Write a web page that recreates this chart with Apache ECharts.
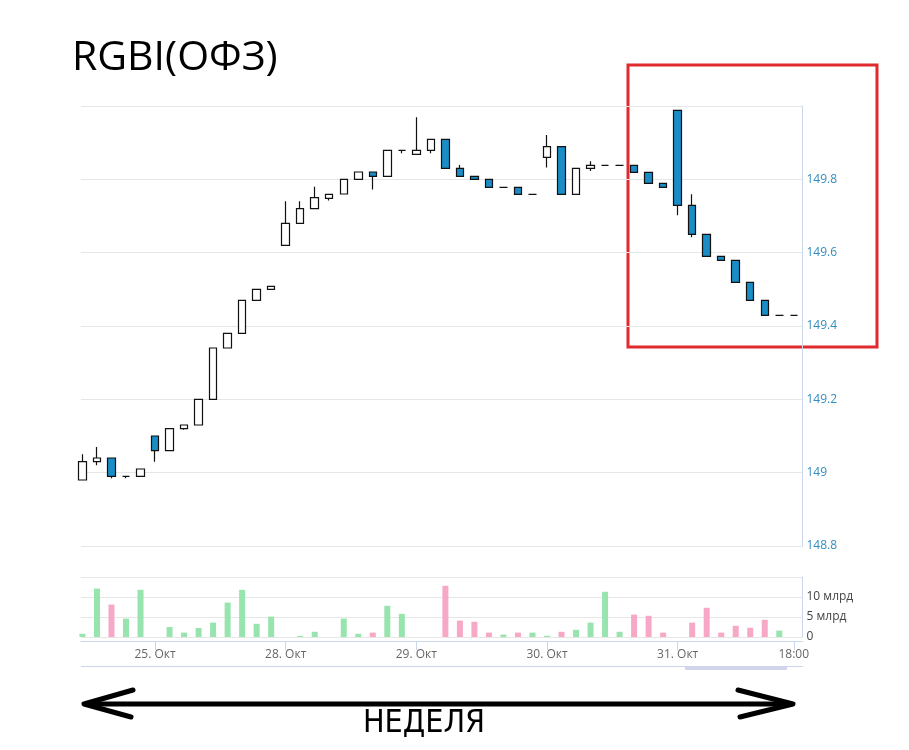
<!DOCTYPE html>
<html><head><meta charset="utf-8">
<script src="https://cdn.jsdelivr.net/npm/echarts@6/dist/echarts.min.js"></script>
<style>html,body{margin:0;padding:0;background:#fff}#c{width:909px;height:750px}</style>
</head><body><div id="c"></div>
<script>
// hourly candles, 24 Oct (14:00-18:00) .. 31 Oct (10:00-18:00)
const openP  = [148.98,149.03,149.04,148.99,148.99,149.10,149.06,149.12,149.13,149.20,
                149.34,149.38,149.47,149.50,149.62,149.68,149.72,149.748,149.76,149.80,
                149.82,149.808,149.879,149.868,149.879,149.909,149.830,149.808,149.800,149.778,
                149.778,149.759,149.860,149.889,149.759,149.830,149.838,149.838,149.838,149.819,
                149.789,149.988,149.729,149.650,149.590,149.579,149.519,149.470,149.429,149.429];
const closeP = [149.03,149.04,148.99,148.99,149.01,149.06,149.12,149.13,149.20,149.34,
                149.38,149.47,149.50,149.508,149.68,149.72,149.75,149.759,149.80,149.82,
                149.808,149.879,149.879,149.879,149.909,149.830,149.808,149.800,149.778,149.778,
                149.759,149.759,149.889,149.759,149.830,149.838,149.838,149.838,149.819,149.789,
                149.778,149.729,149.650,149.590,149.579,149.519,149.470,149.429,149.429,149.429];
const lowP   = [148.98,149.02,148.985,148.985,148.99,149.03,149.06,149.117,149.13,149.20,
                149.34,149.38,149.47,149.50,149.62,149.68,149.72,149.742,149.76,149.80,
                149.772,149.808,149.871,149.868,149.871,149.830,149.808,149.800,149.778,149.778,
                149.759,149.759,149.832,149.759,149.759,149.823,149.838,149.838,149.819,149.789,
                149.778,149.702,149.642,149.590,149.579,149.519,149.470,149.429,149.429,149.429];
const highP  = [149.05,149.07,149.04,148.99,149.01,149.10,149.12,149.13,149.20,149.34,
                149.38,149.47,149.50,149.508,149.74,149.74,149.78,149.759,149.80,149.82,
                149.82,149.879,149.879,149.969,149.909,149.909,149.839,149.808,149.800,149.778,
                149.778,149.759,149.921,149.889,149.830,149.849,149.838,149.838,149.838,149.819,
                149.789,149.988,149.759,149.650,149.590,149.579,149.519,149.470,149.429,149.429];
// volume, billions RUB
const volume = [0.8,12.1,8.1,4.6,11.8,0,2.5,1.1,2.25,3.6,
                8.6,11.8,3.3,5.1,0,0.25,1.3,0,4.6,0.8,
                1.1,7.8,5.8,0,0,12.8,4.1,3.8,1.1,0.6,
                1.1,1.1,0.3,1.3,1.8,3.6,11.3,1.3,5.6,5.3,
                1.1,0,3.6,7.3,1.1,2.8,2.3,4.3,1.6,0];
const volumeDir = ['u','u','d','u','u','u','u','u','u','u',
                   'u','u','u','u','u','u','u','u','u','u',
                   'd','u','u','u','u','d','d','d','d','u',
                   'd','u','u','d','u','u','u','u','d','d',
                   'd','d','d','d','d','d','d','d','u','u'];
const tickIndex  = [5,14,23,32,41,49];
const tickLabels = ['25. Окт','28. Окт','29. Окт','30. Окт','31. Окт','18:00'];
const title = 'RGBI(ОФЗ)';
const caption = 'НЕДЕЛЯ';

const candleData = openP.map((o,i)=>[i,o,closeP[i],lowP[i],highP[i]]);
const volData = volume.map((v,i)=>({value:[i,v],itemStyle:{color: volumeDir[i]==='d' ? '#f7a8c6' : '#98e4ae'}}));

const chart = echarts.init(document.getElementById('c'));
chart.setOption({
  animation:false,
  backgroundColor:'#fff',
  title:{text:title,left:67,top:33,textStyle:{fontFamily:'Open Sans',fontSize:41,fontWeight:'normal',color:'#000'}},
  grid:[{left:81,width:721.5,top:106,height:440},{left:81,width:721.5,top:577,height:60}],
  xAxis:[
    {type:'value',gridIndex:0,min:-0.1,max:49.6,show:false,splitLine:{show:false},axisLine:{onZero:false}},
    {type:'value',gridIndex:1,min:-0.1,max:49.6,offset:4,
     axisLine:{onZero:false,lineStyle:{color:'#ccd6eb'}},
     axisTick:{customValues:tickIndex,length:9,lineStyle:{color:'#ccd6eb'}},
     axisLabel:{customValues:tickIndex,formatter:v=>tickLabels[tickIndex.indexOf(Math.round(v))],color:'#666',fontSize:12,fontFamily:'Open Sans',margin:8},
     splitLine:{show:false}}
  ],
  yAxis:[
    {type:'value',gridIndex:0,position:'right',min:148.8,max:150.0,interval:0.2,
     axisLine:{show:true,onZero:false,lineStyle:{color:'#ccd6eb'}},axisTick:{show:false},
     axisLabel:{color:'#338cbf',fontSize:12,fontFamily:'Open Sans',margin:4,formatter:v=>v>149.99?'':String(+v.toFixed(1))},
     splitLine:{lineStyle:{color:'#e6e6e6'}}},
    {type:'value',gridIndex:1,position:'right',min:0,max:15,interval:5,
     axisLine:{show:true,onZero:false,lineStyle:{color:'#ccd6eb'}},axisTick:{show:false},
     axisLabel:{color:'#444',fontSize:12,fontFamily:'Open Sans',margin:4,formatter:v=>v===0?'0':(v>=15?'':v+' млрд')},
     splitLine:{lineStyle:{color:'#e6e6e6'}}}
  ],
  series:[
    {type:'candlestick',xAxisIndex:0,yAxisIndex:0,encode:{x:0,y:[1,2,3,4]},barWidth:8,clip:true,
     itemStyle:{color:'#ffffff',color0:'#1a8cc6',borderColor:'#111',borderColor0:'#111',borderColorDoji:'#111',borderWidth:1.2},
     data:candleData},
    {type:'bar',xAxisIndex:1,yAxisIndex:1,barWidth:6,data:volData}
  ],
  graphic:[
    {type:'line',shape:{x1:81,y1:666.5,x2:803,y2:666.5},style:{stroke:'#ccd6eb',lineWidth:1}},
    {type:'rect',shape:{x:685,y:667,width:102,height:3},style:{fill:'#d4d4ef'}},
    {type:'rect',shape:{x:628,y:65,width:249,height:282},style:{fill:'none',stroke:'#e02a2e',lineWidth:3}},
    {type:'line',shape:{x1:86,y1:704,x2:790,y2:704},style:{stroke:'#000',lineWidth:5}},
    {type:'polyline',shape:{points:[[133,690],[84,704],[131,717]]},style:{stroke:'#000',lineWidth:5,fill:null,lineJoin:'round',lineCap:'round'}},
    {type:'polyline',shape:{points:[[738,690],[793,704],[740,717]]},style:{stroke:'#000',lineWidth:5,fill:null,lineJoin:'round',lineCap:'round'}},
    {type:'text',x:424,y:724,style:{text:caption,align:'center',verticalAlign:'middle',font:'32px "Liberation Sans Narrow", "DejaVu Sans Condensed", sans-serif',fill:'#000'}}
  ]
});
</script></body></html>
